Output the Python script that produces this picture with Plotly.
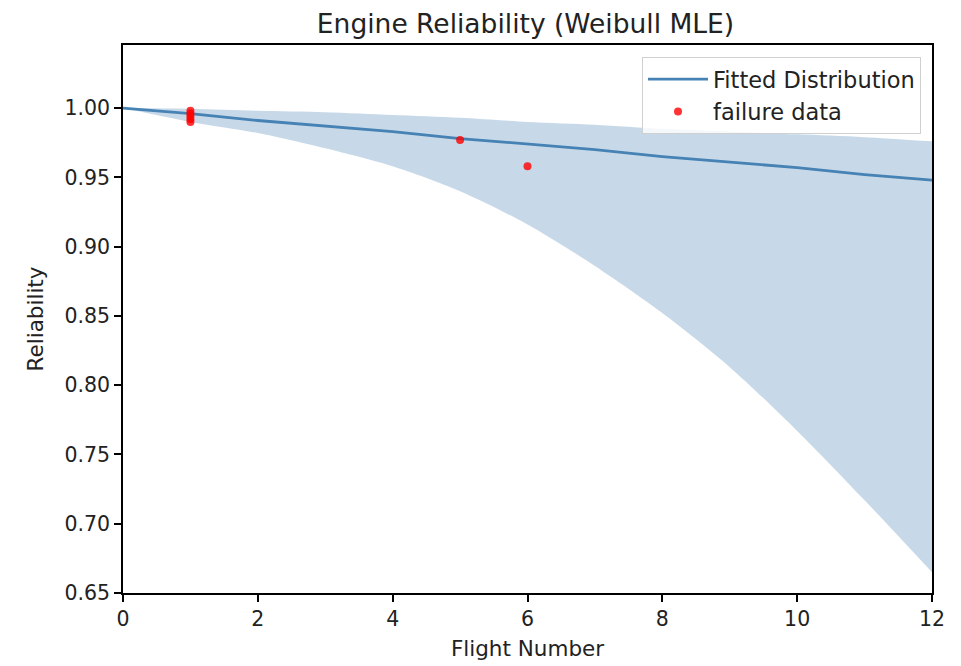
import plotly.graph_objects as go

# Fitted curve and confidence band
flight = [0, 1, 2, 3, 4, 5, 6, 7, 8, 9, 10, 11, 12]
fitted = [1.000, 0.996, 0.991, 0.987, 0.983, 0.978, 0.974, 0.970, 0.965, 0.961, 0.957, 0.952, 0.948]
upper = [1.000, 0.9995, 0.998, 0.997, 0.995, 0.993, 0.990, 0.988, 0.985, 0.983, 0.981, 0.979, 0.976]
lower = [1.000, 0.990, 0.982, 0.971, 0.958, 0.940, 0.916, 0.886, 0.852, 0.813, 0.767, 0.717, 0.665]

# Failure data points
fail_x = [1, 1, 1, 1, 1, 5, 6]
fail_y = [0.998, 0.996, 0.994, 0.992, 0.990, 0.977, 0.958]

font = "DejaVu Sans, sans-serif"
txt = "#222222"

W, H = 953, 658
L, T, R, B = 115, 37, 29, 73

fig = go.Figure()
fig.add_trace(go.Scatter(x=flight, y=upper, mode="lines",
                         line=dict(width=0, shape="spline", smoothing=0.8),
                         showlegend=False, hoverinfo="skip"))
fig.add_trace(go.Scatter(x=flight, y=lower, mode="lines",
                         line=dict(width=0, shape="spline", smoothing=0.8),
                         fill="tonexty", fillcolor="rgba(70,130,180,0.3)",
                         showlegend=False, hoverinfo="skip"))
fig.add_trace(go.Scatter(x=flight, y=fitted, mode="lines", name="Fitted Distribution",
                         line=dict(color="#4682b4", width=2.8)))
fig.add_trace(go.Scatter(x=fail_x, y=fail_y, mode="markers", name="failure data",
                         marker=dict(color="rgba(255,0,0,0.8)", size=8, line=dict(width=0))))

axis_common = dict(showgrid=False, zeroline=False, showline=True, linecolor="black",
                   linewidth=1.5, mirror=True, ticks="outside", ticklen=7, tickwidth=1.5,
                   tickcolor="black", tickfont=dict(family=font, size=20.5, color=txt),
                   automargin=False)

fig.update_layout(
    width=W, height=H,
    margin=dict(l=L, r=R, t=T, b=B),
    paper_bgcolor="white", plot_bgcolor="white",
    title=dict(text="Engine Reliability (Weibull MLE)", x=(525.5 - 8) / W, xanchor="center",
               y=1 - (23.5 - 8) / H, yanchor="middle",
               font=dict(family=font, size=26.5, color=txt)),
    xaxis=dict(range=[0, 12], tickvals=[0, 2, 4, 6, 8, 10, 12],
               title=dict(text="Flight Number", font=dict(family=font, size=21.5, color=txt), standoff=11),
               **axis_common),
    yaxis=dict(range=[0.65, 1.0455], tickvals=[0.65, 0.70, 0.75, 0.80, 0.85, 0.90, 0.95, 1.00],
               tickformat=".2f",
               title=dict(text="Reliability", font=dict(family=font, size=21.5, color=txt), standoff=15),
               **axis_common),
    legend=dict(x=(921 - 123) / 809, y=(593 - 57) / 548, xanchor="right", yanchor="top",
                traceorder="normal",
                bgcolor="rgba(255,255,255,0.8)", bordercolor="#d0d0d0", borderwidth=1,
                font=dict(family=font, size=22.5, color=txt), tracegroupgap=0, itemwidth=60),
)

fig.write_html("out.html")
